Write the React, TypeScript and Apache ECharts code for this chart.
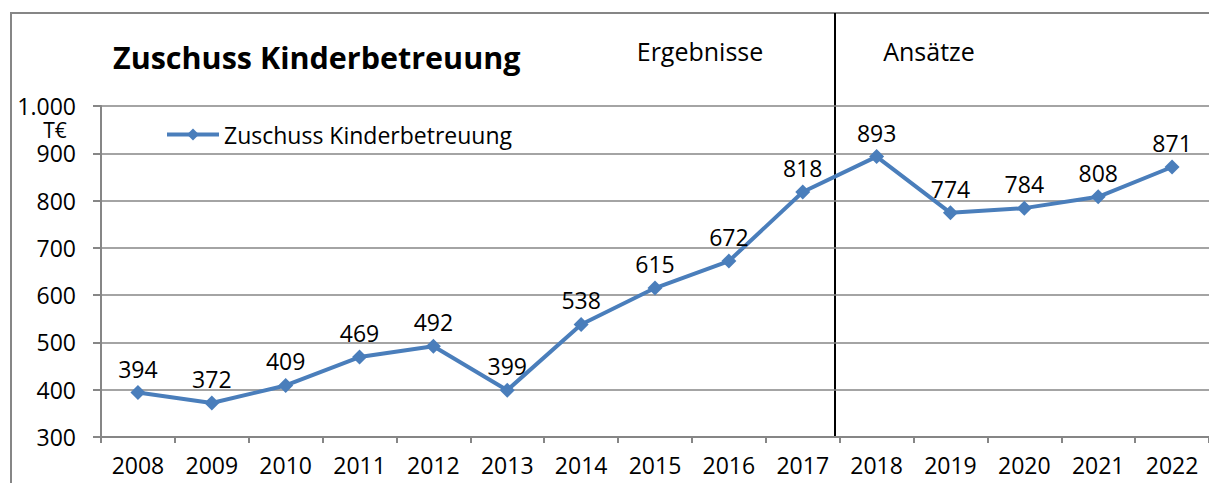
import React, { useEffect, useRef } from "react";
import * as echarts from "echarts";

const years = ["2008","2009","2010","2011","2012","2013","2014","2015","2016","2017","2018","2019","2020","2021","2022"];
const values = [394, 372, 409, 469, 492, 399, 538, 615, 672, 818, 893, 774, 784, 808, 871];
const seriesName = "Zuschuss Kinderbetreuung";
const titleText = "Zuschuss Kinderbetreuung";
const leftSectionLabel = "Ergebnisse";
const rightSectionLabel = "Ansätze";
const unitLabel = "T€";

const FONT = "'Open Sans', Lato, sans-serif";
const BLUE = "#4a7ebb";
const GRAY = "#868686";

export default function App() {
  const ref = useRef<HTMLDivElement>(null);
  useEffect(() => {
    if (!ref.current) return;
    const chart = echarts.init(ref.current, undefined, { renderer: "svg" });
    chart.setOption({
      animation: false,
      backgroundColor: "#ffffff",
      textStyle: { fontFamily: FONT },
      grid: { left: 101, top: 106, width: 1118, height: 331, containLabel: false },
      legend: {
        left: 160,
        top: 118,
        data: [seriesName],
        itemWidth: 52,
        itemHeight: 15,
        itemGap: 4,
        lineStyle: { width: 4 },
        textStyle: { fontFamily: FONT, fontSize: 23, color: "#000" },
      },
      xAxis: {
        type: "category",
        data: years,
        boundaryGap: true,
        axisLine: { show: true, lineStyle: { color: GRAY, width: 2 } },
        axisTick: { show: true, length: 6, lineStyle: { color: GRAY, width: 2 } },
        axisLabel: { color: "#000", fontSize: 23, fontFamily: FONT, margin: 16 },
      },
      yAxis: {
        type: "value",
        min: 300,
        max: 1000,
        interval: 100,
        axisLine: { show: true, lineStyle: { color: GRAY, width: 2 } },
        axisTick: { show: true, length: 8, lineStyle: { color: GRAY, width: 2 } },
        splitLine: { show: true, showMaxLine: true, lineStyle: { color: GRAY, width: 1.5 } },
        axisLabel: {
          color: "#000",
          fontSize: 23,
          lineHeight: 20,
          fontFamily: FONT,
          margin: 25,
          showMaxLabel: true,
          formatter: (v: number) => (v === 1000 ? "1.000" : String(v)),
        },
      },
      series: [
        {
          name: seriesName,
          type: "line",
          data: values,
          symbol: "diamond",
          symbolSize: 15,
          itemStyle: { color: BLUE },
          lineStyle: { color: BLUE, width: 4 },
          label: { show: true, position: "top", distance: 5, color: "#000", fontSize: 23, fontFamily: FONT },
        },
      ],
      graphic: [
        {
          type: "rect",
          shape: { x: 11, y: 13, width: 1260, height: 520 },
          style: { fill: "none", stroke: GRAY, lineWidth: 2 },
          silent: true,
        },
        {
          type: "line",
          shape: { x1: 835, y1: 13, x2: 835, y2: 437 },
          style: { stroke: "#000", lineWidth: 2 },
          silent: true,
        },
        {
          type: "text",
          x: 113,
          y: 57,
          style: { text: titleText, font: `bold 30.5px ${FONT}`, fill: "#000", textVerticalAlign: "middle" },
        },
        {
          type: "text",
          x: 700,
          y: 51,
          style: { text: leftSectionLabel, font: `25px ${FONT}`, fill: "#000", textAlign: "center", textVerticalAlign: "middle" },
        },
        {
          type: "text",
          x: 929,
          y: 51,
          style: { text: rightSectionLabel, font: `25px ${FONT}`, fill: "#000", textAlign: "center", textVerticalAlign: "middle" },
        },
        {
          type: "text",
          x: 55,
          y: 130,
          style: { text: unitLabel, font: `21px ${FONT}`, lineHeight: 18, fill: "#000", textAlign: "center", textVerticalAlign: "middle" },
        },
      ],
    });
    return () => chart.dispose();
  }, []);
  return (
    <div
      ref={ref}
      style={{ position: "fixed", left: 0, top: 0, width: 1209, height: 483, background: "#fff" }}
    />
  );
}
